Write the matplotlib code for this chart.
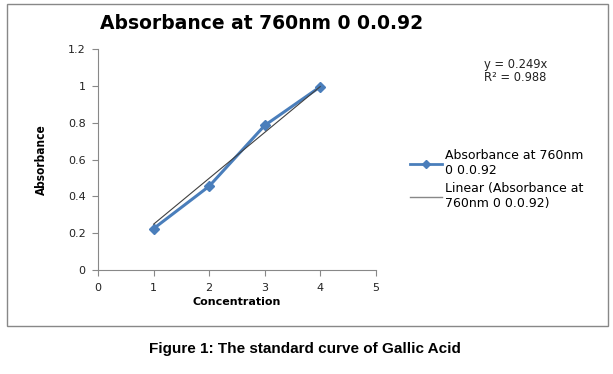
import numpy as np
import matplotlib.pyplot as plt
from matplotlib.lines import Line2D
from matplotlib.patches import Rectangle

conc = [1, 2, 3, 4]
absorb = [0.225, 0.455, 0.785, 0.995]
slope = 0.249
r2 = 0.988

plt.rcParams['font.family'] = ['DejaVu Sans']

fig = plt.figure(figsize=(6.13, 3.74), dpi=100)
ax = fig.add_axes([0.160, 0.278, 0.453, 0.591])

blue = '#4a7ebb'
ax.plot(conc, absorb, color=blue, linewidth=2.2, marker='D', markersize=5)
xt = np.array([conc[0], conc[-1]])
ax.plot(xt, slope * xt, color='#404040', linewidth=0.8)

ax.set_xlim(0, 5)
ax.set_ylim(0, 1.2)
ax.set_xticks([0, 1, 2, 3, 4, 5])
ax.set_yticks([0, 0.2, 0.4, 0.6, 0.8, 1.0, 1.2])
ax.set_yticklabels(['0', '0.2', '0.4', '0.6', '0.8', '1', '1.2'])
for s in ['top', 'right']:
    ax.spines[s].set_visible(False)
for s in ['left', 'bottom']:
    ax.spines[s].set_color('#888888')
    ax.spines[s].set_linewidth(0.8)
ax.tick_params(colors='#888888', labelcolor='#222222', labelsize=8, length=4, pad=5)

ax.set_xlabel('Concentration', fontsize=8, fontweight='bold', labelpad=3)
ax.set_ylabel('Absorbance', fontsize=8.5, fontweight='bold', labelpad=14,
              fontstretch='condensed', family='DejaVu Sans')
fig.text(0.427, 0.936, 'Absorbance at 760nm 0 0.0.92', fontsize=13.5,
         fontweight='bold', ha='center', va='center')

fig.text(0.79, 0.845, 'y = 0.249x\nR² = 0.988', fontsize=8.3, va='top',
         linespacing=1.05, color='#222222')

handles = [Line2D([], [], color=blue, linewidth=2, marker='D', markersize=4),
           Line2D([], [], color='#888888', linewidth=1)]
fig.legend(handles, ['Absorbance at 760nm\n0 0.0.92', 'Linear (Absorbance at\n760nm 0 0.0.92)'],
           loc='center left', bbox_to_anchor=(0.65, 0.52), frameon=False,
           fontsize=9, handlelength=2.6, labelspacing=0.4, handletextpad=0.2)

fig.patches.append(Rectangle((0.012, 0.128), 0.98, 0.862, transform=fig.transFigure,
                             fill=False, edgecolor='#888888', linewidth=1))

fig.text(0.497, 0.055, 'Figure 1: The standard curve of Gallic Acid', ha='center',
         fontsize=11, fontweight='bold', family=['Liberation Sans', 'DejaVu Sans'])

fig.savefig('out.png', dpi=100)
